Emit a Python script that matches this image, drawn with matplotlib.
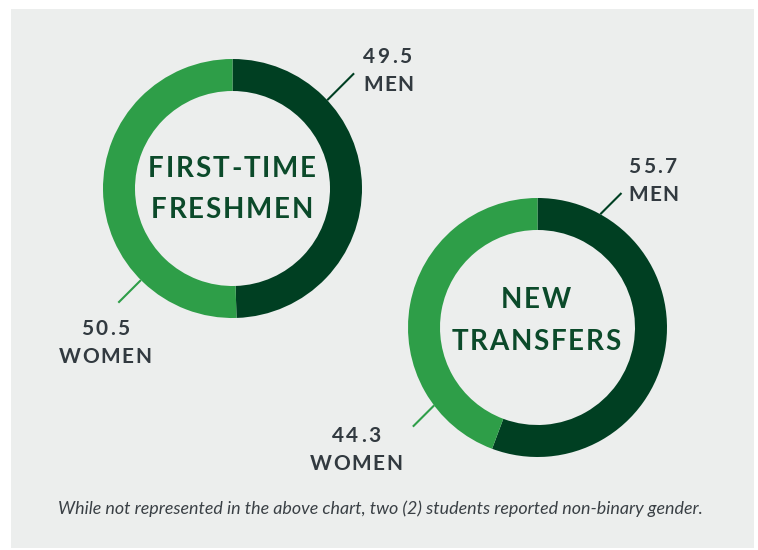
import matplotlib
matplotlib.use("Agg")
import matplotlib.pyplot as plt
from matplotlib.patches import Rectangle
from matplotlib.font_manager import FontProperties
import numpy as np

# ---- data ----
charts = ["FIRST-TIME\nFRESHMEN", "NEW\nTRANSFERS"]
men = [49.5, 55.7]
women = [50.5, 44.3]
categories = ["MEN", "WOMEN"]
footnote = "While not represented in the above chart, two (2) students reported non-binary gender."

W, H = 758, 550
DARK = "#003f22"
LIGHT = "#2e9e48"
BG = "#eceeed"
TXT = "#323a40"
CTXT = "#0b4a2a"

# ---- layout (pixel coordinates, y down) ----
centers = [(232.5, 188.5), (537.5, 327.5)]
R = 129.5
ring = 32
title_pos = [(232, 177, 218), (536, 308, 350)]          # x, baseline1, baseline2
men_pos = [(363, 63, 91), (628, 173, 201)]              # left x, baselines
women_pos = [(105, 335, 363), (356, 442, 470)]          # center x, baselines
men_lead = [(43, 38), (61, 30)]                         # start angle, length
women_lead = [(225, 32), (217, 30)]

fig = plt.figure(figsize=(W / 100, H / 100), dpi=100)
fig.patch.set_facecolor("white")
ax = fig.add_axes([0, 0, 1, 1])
renderer = fig.canvas.get_renderer()

def Y(py):
    return H - py

def tracked(x, py, s, size, track, ha, color, weight="bold", family="Lato"):
    prop = FontProperties(family=family, weight=weight, size=size)
    ws = [renderer.get_text_width_height_descent(ch, prop, ismath=False)[0] for ch in s]
    total = sum(ws) + track * (len(s) - 1)
    if ha == "center":
        cx = x - total / 2
    else:
        cx = x
    for ch, w in zip(s, ws):
        ax.text(cx, Y(py), ch, ha="left", va="baseline", color=color,
                fontproperties=prop)
        cx += w + track

ax.add_patch(Rectangle((11, Y(548)), 743, 539, facecolor=BG, edgecolor="none", zorder=0))

def circ_pt(c, r, ang):
    a = np.deg2rad(ang)
    return c[0] + r * np.cos(a), Y(c[1]) + r * np.sin(a)

for i, c in enumerate(centers):
    ax.pie([men[i], women[i]], colors=[DARK, LIGHT], startangle=90, counterclock=False,
           radius=R, center=(c[0], Y(c[1])), wedgeprops=dict(width=ring, edgecolor="none"),
           frame=True)
    l1, l2 = charts[i].split("\n")
    tx, b1, b2 = title_pos[i]
    tracked(tx, b1, l1, 20, 1.8, "center", CTXT)
    tracked(tx, b2, l2, 20, 1.8, "center", CTXT)

    # men leader (45 degree diagonal up-right)
    ang, L = men_lead[i]
    x0, y0 = circ_pt(c, R, ang)
    d = L / np.sqrt(2)
    ax.plot([x0, x0 + d], [y0, y0 + d], color=DARK, lw=1.5, solid_capstyle="butt")
    mx, mb1, mb2 = men_pos[i]
    tracked(mx, mb1, f"{men[i]}", 15, 2.5, "left", TXT)
    tracked(mx, mb2, categories[0], 15, 1.5, "left", TXT)

    # women leader (45 degree diagonal down-left)
    ang, L = women_lead[i]
    x0, y0 = circ_pt(c, R, ang)
    d = L / np.sqrt(2)
    ax.plot([x0, x0 - d], [y0, y0 - d], color=LIGHT, lw=1.5, solid_capstyle="butt")
    wx, wb1, wb2 = women_pos[i]
    tracked(wx, wb1, f"{women[i]}", 15, 2.5, "center", TXT)
    tracked(wx, wb2, categories[1], 15, 1.5, "center", TXT)

ax.set_xlim(0, W)
ax.set_ylim(0, H)
ax.set_aspect("auto")
ax.axis("off")

ax.text(58, Y(509), footnote, ha="left", va="center", color="#3a4045",
        fontsize=12.9, style="italic", family="Lato")

fig.savefig("out.png", dpi=100, facecolor="white")
